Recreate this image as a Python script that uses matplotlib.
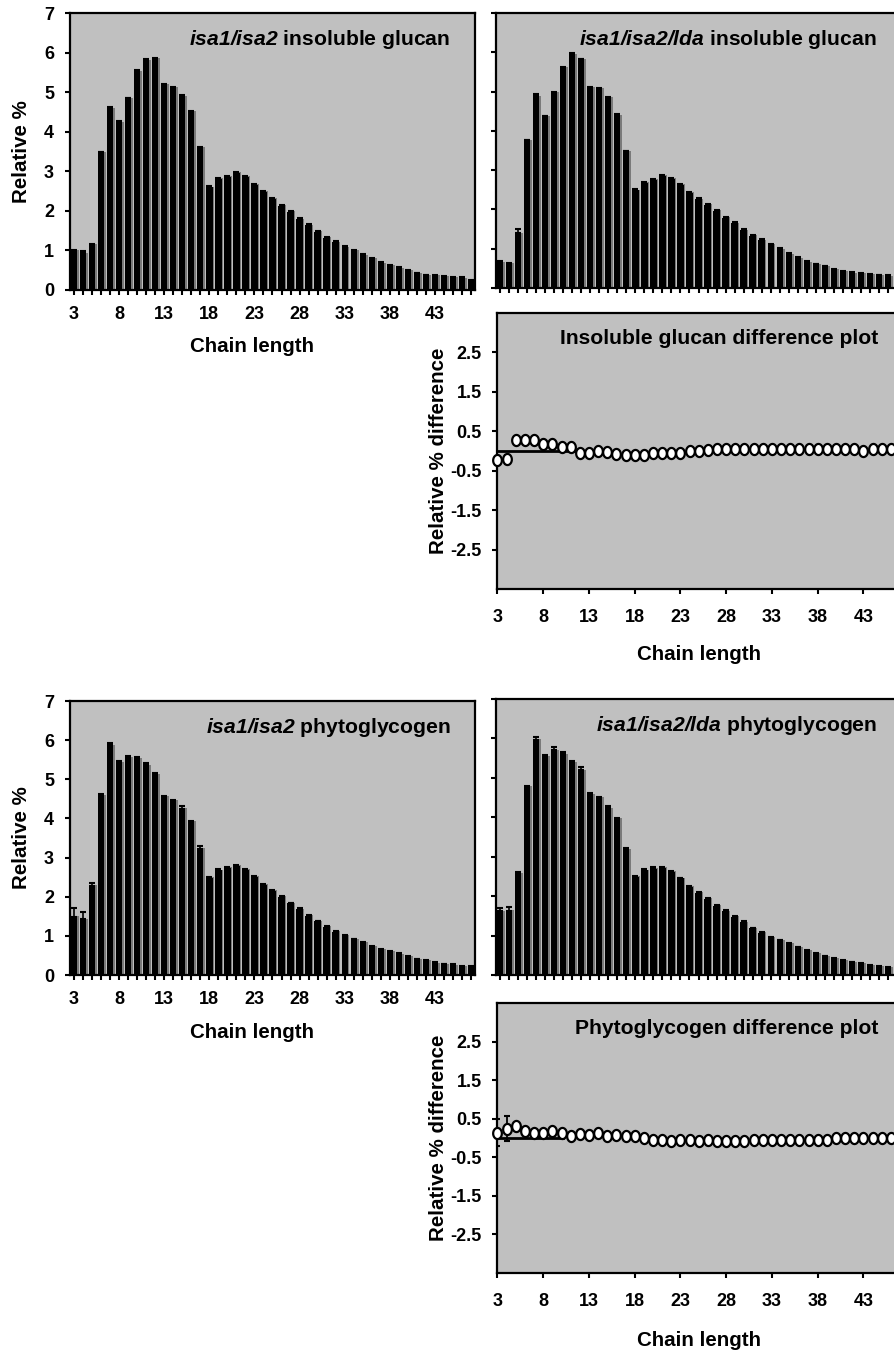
import numpy as np
import matplotlib
matplotlib.use("Agg")
import matplotlib.pyplot as plt
from matplotlib.path import Path
import matplotlib.patheffects as pe

plt.rcParams['font.family'] = ['Liberation Sans', 'DejaVu Sans']
plt.rcParams['font.weight'] = 'bold'
plt.rcParams['mathtext.fontset'] = 'custom'
plt.rcParams['mathtext.rm'] = 'Liberation Sans:italic:bold'
plt.rcParams['mathtext.it'] = 'Liberation Sans:italic:bold'
plt.rcParams['mathtext.bf'] = 'Liberation Sans:italic:bold'

# ---------------- data ----------------
chain = list(range(3, 48))

ins_isa = [0.99, 0.93, 1.14, 3.48, 4.59, 4.23, 4.84, 5.52, 5.80, 5.85,
           5.19, 5.11, 4.88, 4.50, 3.59, 2.60, 2.81, 2.86, 2.96, 2.86,
           2.66, 2.48, 2.30, 2.13, 1.98, 1.79, 1.64, 1.47, 1.32, 1.21,
           1.08, 0.99, 0.88, 0.79, 0.68, 0.61, 0.55, 0.48, 0.42, 0.37,
           0.36, 0.34, 0.31, 0.30, 0.23]
ins_isa_err = [0.02, 0.05, 0.02, 0.02, 0.03, 0.05, 0.02, 0.03, 0.05, 0.02,
               0.02, 0.03, 0.05, 0.02, 0.02, 0.03, 0.02, 0.02, 0.02, 0.02,
               0.02, 0.02, 0.02, 0.02, 0.02, 0.02, 0.02, 0.02, 0.02, 0.02,
               0.02, 0.02, 0.02, 0.02, 0.02, 0.02, 0.02, 0.02, 0.02, 0.02,
               0.02, 0.02, 0.02, 0.02, 0.02]

ins_lda = [0.66, 0.62, 1.39, 3.76, 4.88, 4.37, 4.97, 5.61, 5.95, 5.82,
           5.09, 5.07, 4.84, 4.40, 3.48, 2.49, 2.68, 2.75, 2.86, 2.78,
           2.63, 2.43, 2.26, 2.12, 1.96, 1.79, 1.65, 1.47, 1.33, 1.22,
           1.10, 0.99, 0.86, 0.76, 0.66, 0.60, 0.55, 0.47, 0.42, 0.38,
           0.36, 0.33, 0.32, 0.30, 0.27]
ins_lda_err = [0.02, 0.02, 0.10, 0.02, 0.06, 0.02, 0.02, 0.02, 0.02, 0.02,
               0.02, 0.02, 0.02, 0.02, 0.02, 0.02, 0.02, 0.02, 0.02, 0.02,
               0.02, 0.02, 0.02, 0.02, 0.02, 0.02, 0.02, 0.02, 0.02, 0.02,
               0.02, 0.02, 0.02, 0.02, 0.02, 0.02, 0.02, 0.02, 0.02, 0.02,
               0.02, 0.02, 0.02, 0.02, 0.02]

phy_isa = [1.49, 1.42, 2.28, 4.59, 5.87, 5.44, 5.55, 5.54, 5.36, 5.13,
           4.55, 4.45, 4.25, 3.91, 3.23, 2.49, 2.68, 2.74, 2.79, 2.69,
           2.51, 2.30, 2.15, 2.00, 1.83, 1.68, 1.52, 1.37, 1.23, 1.11,
           1.00, 0.91, 0.82, 0.72, 0.65, 0.60, 0.53, 0.46, 0.40, 0.37,
           0.30, 0.27, 0.25, 0.21, 0.20]
phy_isa_err = [0.22, 0.20, 0.08, 0.03, 0.05, 0.03, 0.04, 0.04, 0.06, 0.04,
               0.03, 0.03, 0.06, 0.03, 0.07, 0.02, 0.02, 0.02, 0.02, 0.02,
               0.02, 0.02, 0.02, 0.02, 0.02, 0.02, 0.02, 0.02, 0.02, 0.02,
               0.02, 0.02, 0.02, 0.02, 0.02, 0.02, 0.02, 0.02, 0.02, 0.02,
               0.02, 0.02, 0.02, 0.02, 0.02]

phy_lda = [1.62, 1.63, 2.57, 4.77, 5.96, 5.53, 5.70, 5.60, 5.38, 5.19,
           4.58, 4.49, 4.23, 3.96, 3.19, 2.49, 2.66, 2.70, 2.72, 2.62,
           2.45, 2.24, 2.08, 1.94, 1.76, 1.62, 1.48, 1.34, 1.18, 1.07,
           0.95, 0.88, 0.79, 0.70, 0.61, 0.54, 0.47, 0.41, 0.36, 0.32,
           0.28, 0.24, 0.21, 0.19, 0.15]
phy_lda_err = [0.08, 0.10, 0.03, 0.03, 0.07, 0.05, 0.07, 0.06, 0.06, 0.08,
               0.04, 0.03, 0.06, 0.03, 0.03, 0.02, 0.02, 0.03, 0.03, 0.02,
               0.02, 0.02, 0.02, 0.02, 0.02, 0.02, 0.02, 0.02, 0.02, 0.02,
               0.02, 0.02, 0.02, 0.02, 0.02, 0.02, 0.02, 0.02, 0.02, 0.02,
               0.02, 0.02, 0.02, 0.02, 0.02]

ins_diff = [-0.23, -0.21, 0.29, 0.29, 0.29, 0.17, 0.18, 0.11, 0.11, -0.06,
            -0.04, -0.01, -0.02, -0.08, -0.09, -0.09, -0.09, -0.04, -0.04, -0.04,
            -0.04, -0.01, 0.00, 0.03, 0.04, 0.04, 0.04, 0.04, 0.04, 0.04,
            0.04, 0.04, 0.04, 0.04, 0.04, 0.04, 0.04, 0.04, 0.04, 0.04,
            0.00, 0.04, 0.04, 0.04, 0.04]
ins_diff_err = [0.05, 0.12, 0.03, 0.02, 0.02, 0.03, 0.02, 0.02, 0.02, 0.02,
                0.02, 0.02, 0.02, 0.02, 0.02, 0.02, 0.02, 0.02, 0.02, 0.02,
                0.02, 0.02, 0.02, 0.02, 0.02, 0.02, 0.02, 0.02, 0.02, 0.02,
                0.02, 0.02, 0.02, 0.02, 0.02, 0.02, 0.02, 0.02, 0.02, 0.02,
                0.02, 0.02, 0.02, 0.02, 0.02]

phy_diff = [0.13, 0.24, 0.30, 0.19, 0.13, 0.13, 0.18, 0.12, 0.05, 0.11,
            0.09, 0.12, 0.05, 0.09, 0.05, 0.05, 0.00, -0.04, -0.06, -0.08,
            -0.04, -0.04, -0.08, -0.04, -0.08, -0.08, -0.08, -0.08, -0.06, -0.04,
            -0.04, -0.04, -0.04, -0.04, -0.04, -0.04, -0.04, -0.01, -0.01, -0.01,
            -0.01, -0.01, -0.01, -0.01, -0.04]
phy_diff_err = [0.35, 0.33, 0.10, 0.03, 0.03, 0.03, 0.08, 0.10, 0.08, 0.07,
                0.05, 0.05, 0.06, 0.03, 0.02, 0.02, 0.02, 0.02, 0.02, 0.02,
                0.02, 0.02, 0.02, 0.02, 0.02, 0.02, 0.02, 0.02, 0.02, 0.02,
                0.02, 0.02, 0.02, 0.02, 0.02, 0.02, 0.02, 0.02, 0.02, 0.02,
                0.02, 0.02, 0.02, 0.02, 0.02]

# zero reference segments in the difference plots (start, end chain length)
ins_zero_span = [3, 11.4]
phy_zero_span = [3, 10.2]

bar_yticks = [0, 1, 2, 3, 4, 5, 6, 7]
diff_yticks = [2.5, 1.5, 0.5, -0.5, -1.5, -2.5]
label_ticks = [3, 8, 13, 18, 23, 28, 33, 38, 43]

# ---------------- style ----------------
BG = '#c0c0c0'
TICK_FS = 13
LAB_FS = 14.8
TITLE_FS = 15.2

fig = plt.figure(figsize=(8.94, 13.51), dpi=100)


def style_axes(ax):
    ax.set_facecolor(BG)
    for s in ax.spines.values():
        s.set_linewidth(1.6)
        s.set_color('black')
    ax.tick_params(direction='out', length=3.5, width=1.5, labelsize=TICK_FS,
                   colors='black', pad=8)


def bar_panel(rect, values, errs, title, show_ylab, xlab_y):
    ax = fig.add_axes(rect)
    style_axes(ax)
    ax.bar(chain, values, width=0.7, color='black', zorder=2,
           path_effects=[pe.SimplePatchShadow(offset=(1.2, 0.4),
                                              shadow_rgbFace='#7a7a7a', alpha=1),
                         pe.Normal()])
    ax.errorbar(chain, values, yerr=[np.zeros(len(errs)), errs], fmt='none',
                ecolor='black', elinewidth=1.2, capsize=2.2, capthick=1.5, zorder=3)
    ax.set_xlim(2.55, 47.45)
    ax.set_ylim(0, 7)
    ax.set_yticks(bar_yticks)
    ax.set_xticks(chain)
    ax.set_xticklabels([str(c) if c in label_ticks else '' for c in chain],
                       fontweight='bold')
    if show_ylab:
        ax.set_yticklabels([str(v) for v in bar_yticks], fontweight='bold')
        ax.set_ylabel('Relative %', fontsize=LAB_FS, fontweight='bold')
        ax.yaxis.set_label_coords(-0.097, 0.5)
        ax.set_xlabel('Chain length', fontsize=LAB_FS, fontweight='bold')
        ax.xaxis.set_label_coords(0.45, xlab_y)
    else:
        ax.set_yticklabels([])
        ax.tick_params(axis='x', labelbottom=False)
    ax.text(0.94, 0.905, title, transform=ax.transAxes, ha='right', va='center',
            fontsize=TITLE_FS, fontweight='bold')
    return ax


# elliptical open marker
th = np.linspace(0, 2 * np.pi, 60)
ell = Path(np.column_stack([0.78 * np.cos(th), np.sin(th)]), closed=True)


def diff_panel(rect, values, errs, span, title, xlab_y):
    ax = fig.add_axes(rect)
    style_axes(ax)
    ax.plot(span, [0, 0], color='black', lw=2.0, zorder=2)
    ax.errorbar(chain, values, yerr=errs, fmt='none', ecolor='black',
                elinewidth=1.3, capsize=2.5, capthick=1.5, zorder=3)
    ax.plot(chain, values, linestyle='none', marker=ell, markersize=8,
            markerfacecolor='white', markeredgecolor='black',
            markeredgewidth=1.6, zorder=4, clip_on=False)
    ax.set_xlim(3, 47)
    ax.set_ylim(-3.5, 3.5)
    ax.set_xticks(label_ticks)
    ax.set_xticklabels([str(c) for c in label_ticks], fontweight='bold')
    ax.set_yticks(diff_yticks)
    ax.set_yticklabels([str(v) for v in diff_yticks], fontweight='bold')
    ax.tick_params(axis='x', pad=11)
    ax.set_ylabel('Relative % difference', fontsize=LAB_FS, fontweight='bold')
    ax.yaxis.set_label_coords(-0.122, 0.5)
    ax.set_xlabel('Chain length', fontsize=LAB_FS, fontweight='bold')
    ax.xaxis.set_label_coords(0.5, xlab_y)
    ax.text(0.946, 0.907, title, transform=ax.transAxes, ha='right', va='center',
            fontsize=TITLE_FS, fontweight='bold')
    return ax


W = 405 / 894
bar_panel([70 / 894, 1 - 290 / 1351, W, 277 / 1351], ins_isa, ins_isa_err,
          r'$\mathrm{isa1/isa2}$ insoluble glucan', True, -0.171)
bar_panel([496 / 894, 1 - 288 / 1351, W, 275 / 1351], ins_lda, ins_lda_err,
          r'$\mathrm{isa1/isa2/lda}$ insoluble glucan', False, -0.17)
diff_panel([497.5 / 894, 1 - 589 / 1351, 402.5 / 894, 276 / 1351], ins_diff,
           ins_diff_err, ins_zero_span, 'Insoluble glucan difference plot', -0.203)

bar_panel([70 / 894, 1 - 975 / 1351, W, 274 / 1351], phy_isa, phy_isa_err,
          r'$\mathrm{isa1/isa2}$ phytoglycogen', True, -0.177)
bar_panel([496 / 894, 1 - 975 / 1351, W, 276 / 1351], phy_lda, phy_lda_err,
          r'$\mathrm{isa1/isa2/lda}$ phytoglycogen', False, -0.17)
diff_panel([497.5 / 894, 1 - 1273 / 1351, 402.5 / 894, 270 / 1351], phy_diff,
           phy_diff_err, phy_zero_span, 'Phytoglycogen difference plot', -0.214)

fig.savefig('out.png', dpi=100)
